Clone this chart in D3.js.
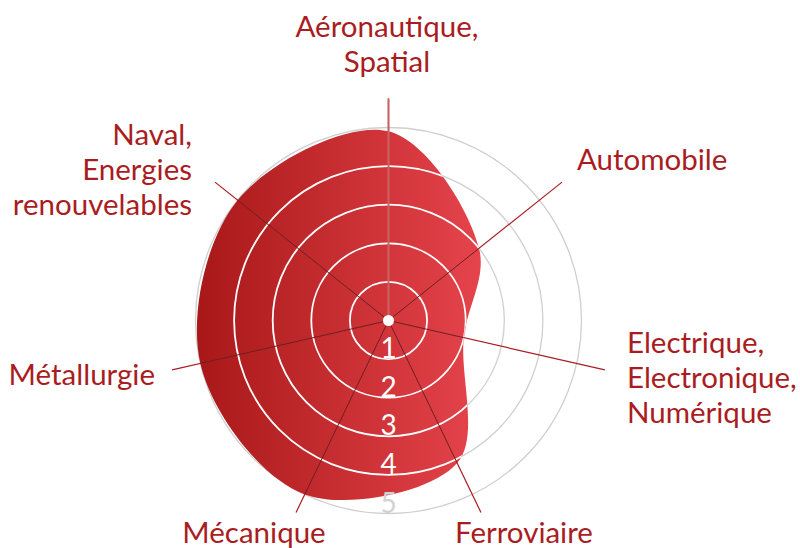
<!DOCTYPE html>
<html>
<head>
<meta charset="utf-8">
<script src="https://cdn.jsdelivr.net/npm/d3@7"></script>
<style>
	html, body { margin: 0; padding: 0; background: #fff; }
	svg { display: block; font-family: Lato, "Open Sans", sans-serif; }
</style>
</head>
<body>
<div id="chart"></div>
<script>
// axes, clockwise from the top
var sectors = [
	["Aéronautique,", "Spatial"],
	["Automobile"],
	["Electrique,", "Electronique,", "Numérique"],
	["Ferroviaire"],
	["Mécanique"],
	["Métallurgie"],
	["Naval,", "Energies", "renouvelables"]
];
var scores = [4.9, 3, 2, 4.1, 5, 5, 5];
var levels = [1, 2, 3, 4, 5];

var width = 800, height = 548;
var cx = 388.5, cy = 320.5;
var red = "#a91d22";

// where each label sits (anchor + first baseline)
var labelPos = [
	{anchor: "middle", x: 387, y: 37},
	{anchor: "start", x: 577, y: 170},
	{anchor: "start", x: 627, y: 353},
	{anchor: "start", x: 455, y: 543},
	{anchor: "middle", x: 254, y: 543},
	{anchor: "end", x: 155, y: 385},
	{anchor: "end", x: 192, y: 145}
];

var r = d3.scaleLinear().domain([0, 5]).range([0, 193]);
var angle = d3.scaleLinear().domain([0, sectors.length]).range([0, 2 * Math.PI]);

function pt(i, v) {
	var a = angle(i);
	return [Math.sin(a) * r(v), -Math.cos(a) * r(v)];
}

// spoke end, cut short at the bottom so it clears the labels
function spokeEnd(i) {
	var p = pt(i, 5.75);
	if (p[1] > 192) p = [p[0] * 192 / p[1], 192];
	return p;
}

var svg = d3.select("#chart").append("svg")
	.attr("width", width)
	.attr("height", height);

var defs = svg.append("defs");
var grad = defs.append("linearGradient")
	.attr("id", "fillGrad")
	.attr("gradientUnits", "userSpaceOnUse")
	.attr("x1", -193).attr("x2", 95)
	.attr("y1", 0).attr("y2", 0);
grad.append("stop").attr("offset", "0%").attr("stop-color", "#a81818");
grad.append("stop").attr("offset", "100%").attr("stop-color", "#e6444c");

var g = svg.append("g").attr("transform", "translate(" + cx + "," + cy + ")");

var line = d3.line().curve(d3.curveCatmullRomClosed.alpha(0.5));
var shapeD = line(scores.map(function(v, i) { return pt(i, v); }));

defs.append("clipPath").attr("id", "shapeClip")
	.append("path").attr("d", shapeD);

// grey rings underneath
g.selectAll(".ring")
	.data(levels)
	.enter().append("circle")
	.attr("class", "ring")
	.attr("r", function(d) { return r(d); })
	.attr("fill", "none")
	.attr("stroke", "#cfcfcf")
	.attr("stroke-width", 1.3);

// spokes
g.selectAll(".spoke")
	.data(sectors)
	.enter().append("line")
	.attr("class", "spoke")
	.attr("x1", 0).attr("y1", 0)
	.attr("x2", function(d, i) { return spokeEnd(i)[0]; })
	.attr("y2", function(d, i) { return spokeEnd(i)[1]; })
	.attr("stroke", red)
	.attr("stroke-width", 1.2);

g.append("path")
	.attr("d", shapeD)
	.attr("fill", "url(#fillGrad)");

// white rings and dark spokes inside the shape
var inner = g.append("g").attr("clip-path", "url(#shapeClip)");
inner.selectAll(".ringIn")
	.data(levels.slice(0, 4))
	.enter().append("circle")
	.attr("class", "ringIn")
	.attr("r", function(d) { return r(d); })
	.attr("fill", "none")
	.attr("stroke", "#fff")
	.attr("stroke-width", 1.8);

inner.selectAll(".spokeIn")
	.data(sectors.slice(1))
	.enter().append("line")
	.attr("class", "spokeIn")
	.attr("x1", 0).attr("y1", 0)
	.attr("x2", function(d, i) { return spokeEnd(i + 1)[0]; })
	.attr("y2", function(d, i) { return spokeEnd(i + 1)[1]; })
	.attr("stroke", "#6e2020")
	.attr("stroke-width", 1);

// top spoke is lighter and sits over everything
g.append("line")
	.attr("x1", 0).attr("y1", 0)
	.attr("x2", spokeEnd(0)[0]).attr("y2", spokeEnd(0)[1])
	.attr("stroke", "#c96466")
	.attr("stroke-width", 2);

g.append("circle").attr("r", 5.5).attr("fill", "#fff");

// level numbers down the bottom
g.selectAll(".lvl")
	.data(levels)
	.enter().append("text")
	.attr("class", "lvl")
	.attr("x", 0)
	.attr("y", function(d) { return r(d) - 1; })
	.attr("text-anchor", "middle")
	.attr("font-size", 28)
	.attr("fill", function(d) { return d < 5 ? "#fff" : "#d2d2d2"; })
	.text(function(d) { return d; });

// sector labels
svg.selectAll(".lbl")
	.data(sectors)
	.enter().append("text")
	.attr("class", "lbl")
	.attr("text-anchor", function(d, i) { return labelPos[i].anchor; })
	.attr("font-size", 29.5)
	.attr("fill", red)
	.each(function(d, i) {
		var t = d3.select(this);
		d.forEach(function(s, k) {
			t.append("tspan")
				.attr("x", labelPos[i].x)
				.attr("y", labelPos[i].y + k * 35)
				.text(s);
		});
	});
</script>
</body>
</html>
